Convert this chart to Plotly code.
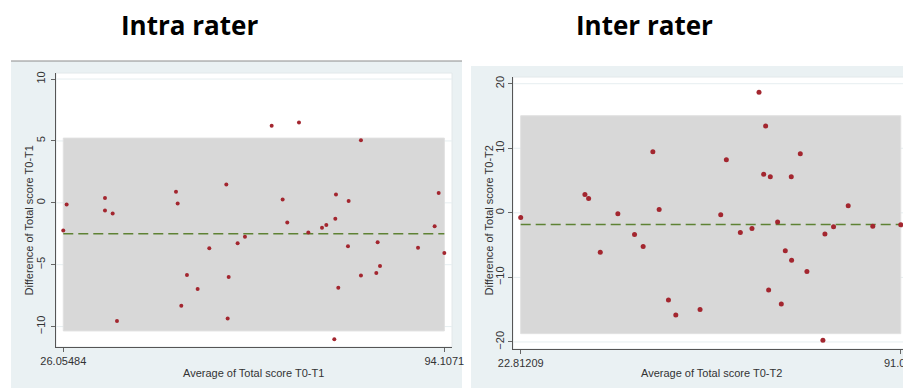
import plotly.graph_objects as go

# ---------------- data ----------------
intra_avg = [26.05, 26.65, 33.5, 33.5, 34.87, 35.64, 46.18, 46.48, 47.13, 48.14,
             50.05, 52.13, 55.17, 55.59, 55.41, 57.19, 58.5, 63.27, 65.23, 66.06,
             68.15, 69.82, 72.26, 73.03, 74.76, 74.64, 74.46, 75.17, 77.02, 76.9,
             79.22, 79.22, 81.96, 82.2, 82.62, 89.41, 92.38, 93.1, 94.11]
intra_diff = [-2.23, -0.14, 0.38, -0.62, -0.87, -9.54, 0.90, -0.05, -8.31, -5.84,
              -6.96, -3.67, 1.49, -6.0, -9.35, -3.26, -2.74, 6.22, 0.27, -1.58,
              6.49, -2.39, -2.01, -1.79, 0.68, -1.28, -11.03, -6.87, 0.14, -3.5,
              5.05, -5.87, -5.68, -3.18, -5.11, -3.64, -1.90, 0.79, -4.05]
intra_mean = -2.49
intra_limits = [-10.35, 5.23]
intra_xticks = [26.05484, 94.1071]
intra_xticktext = ["26.05484", "94.1071"]
intra_yticks = [-10, -5, 0, 5, 10]

inter_avg = [22.81, 34.34, 35.0, 37.09, 40.25, 43.24, 44.79, 46.53, 47.66, 49.33,
             50.65, 55.0, 58.71, 59.72, 62.23, 64.32, 65.58, 66.42, 66.77, 67.61,
             67.31, 68.92, 69.58, 70.3, 71.37, 71.43, 72.99, 74.18, 77.05, 77.41,
             78.96, 81.59, 86.0, 91.02]
inter_diff = [-0.72, 2.84, 2.22, -6.10, -0.16, -3.36, -5.22, 9.46, 0.52, -13.49,
              -15.81, -14.99, -0.31, 8.22, -3.05, -2.43, 18.66, 5.99, 13.44, 5.58,
              -11.94, -1.40, -14.11, -5.89, 5.58, -7.34, 9.15, -9.10, -19.74, -3.26,
              -2.17, 1.09, -2.07, -1.86]
inter_mean = -1.81
inter_limits = [-18.71, 15.04]
inter_xticks = [22.81209, 91.022]
inter_xticktext = ["22.81209", "91.022"]
inter_yticks = [-20, -10, 0, 10, 20]

titles = ["Intra rater", "Inter rater"]
x_titles = ["Average of Total score T0-T1", "Average of Total score T0-T2"]
y_titles = ["Difference of Total score T0-T1", "Difference of Total score T0-T2"]

# ---------------- styling ----------------
W, H = 911, 388
OFF = 8  # page body margin in the viewer
PANEL = "#EAF1F3"
BAND = "#D8D8D8"
MARK = "#A3262F"
MEANC = "#5E8234"
FONT = "Liberation Sans, Arial, sans-serif"


def px(x):
    return (x - OFF) / W


def py(y):
    return 1 - (y - OFF) / H


fig = go.Figure()

panels = [
    dict(avg=intra_avg, diff=intra_diff, mean=intra_mean, lim=intra_limits,
         xt=intra_xticks, xtt=intra_xticktext, yt=intra_yticks,
         xr=[24.75, 95.48], yr=[-11.65, 10.49],
         plot=(56, 452, 73, 347), outer=(11, 462, 61), msize=4, stand=2,
         xa="x", ya="y"),
    dict(avg=inter_avg, diff=inter_diff, mean=inter_mean, lim=inter_limits,
         xt=inter_xticks, xtt=inter_xticktext, yt=inter_yticks,
         xr=[21.43, 92.5], yr=[-21.09, 21.04],
         plot=(513, 909, 77, 349), outer=(471, 920, 66), msize=5, stand=0,
         xa="x2", ya="y2"),
]

shapes = []
annotations = []
layout_axes = {}

for i, p in enumerate(panels):
    L, R, T, B = p["plot"]
    oL, oR, oT = p["outer"]
    # outer graph region
    shapes.append(dict(type="rect", xref="paper", yref="paper",
                       x0=px(oL), x1=px(oR), y0=0, y1=py(oT),
                       fillcolor=PANEL, line=dict(width=0), layer="below"))
    # white plot region
    shapes.append(dict(type="rect", xref="paper", yref="paper",
                       x0=px(L), x1=px(R), y0=py(B), y1=py(T),
                       fillcolor="white", line=dict(color="#E2E8EA", width=1),
                       layer="below"))
    # grid lines
    for v in p["yt"]:
        shapes.append(dict(type="line", xref=p["xa"] + " domain", yref=p["ya"],
                           x0=0, x1=1, y0=v, y1=v,
                           line=dict(color="#E6EEF0", width=1), layer="below"))
    # limits of agreement band
    shapes.append(dict(type="rect", xref=p["xa"], yref=p["ya"],
                       x0=min(p["avg"]), x1=max(p["avg"]),
                       y0=p["lim"][0], y1=p["lim"][1],
                       fillcolor=BAND, line=dict(color="#E0E0E0", width=1),
                       layer="below"))

    # mean difference line
    fig.add_trace(go.Scatter(x=[min(p["avg"]), max(p["avg"])], y=[p["mean"], p["mean"]],
                             mode="lines", xaxis=p["xa"], yaxis=p["ya"],
                             line=dict(color=MEANC, width=1.5, dash="10px,5px"),
                             hoverinfo="skip", showlegend=False))
    # points
    fig.add_trace(go.Scatter(x=p["avg"], y=p["diff"], mode="markers",
                             xaxis=p["xa"], yaxis=p["ya"],
                             marker=dict(color=MARK, size=p["msize"], line=dict(width=0)),
                             showlegend=False))

    suffix = "" if i == 0 else "2"
    layout_axes["xaxis" + suffix] = dict(
        domain=[px(L), px(R)], range=p["xr"], anchor=p["ya"],
        tickvals=p["xt"], ticktext=p["xtt"], ticks="outside", ticklen=4,
        tickcolor="#666", showline=True, linecolor="#555", linewidth=1,
        showgrid=False, zeroline=False, automargin=False,
        tickfont=dict(family=FONT, size=11, color="#333"))
    layout_axes["yaxis" + suffix] = dict(
        domain=[py(B), py(T)], range=p["yr"], anchor=p["xa"],
        tickvals=p["yt"], ticks="outside", ticklen=4, tickangle=-90,
        ticklabelstandoff=p["stand"],
        tickcolor="#666", showline=True, linecolor="#555", linewidth=1,
        showgrid=False, zeroline=False, automargin=False,
        tickfont=dict(family=FONT, size=11, color="#333"))

    # axis titles
    annotations.append(dict(text=x_titles[i], xref="paper", yref="paper",
                            x=px((L + R) / 2), y=py(373), showarrow=False,
                            xanchor="center", yanchor="middle",
                            font=dict(family=FONT, size=11, color="#333")))
    annotations.append(dict(text=y_titles[i], xref="paper", yref="paper",
                            x=px(oL + 17.5), y=py(221), showarrow=False,
                            textangle=-90, xanchor="center", yanchor="middle",
                            font=dict(family=FONT, size=11, color="#333")))

# top border on the left graph region
shapes.append(dict(type="line", xref="paper", yref="paper",
                   x0=px(11), x1=px(462), y0=py(61), y1=py(61),
                   line=dict(color="#8C8C8C", width=1), layer="below"))

# panel titles
annotations.append(dict(text="<b>" + titles[0] + "</b>", xref="paper", yref="paper",
                        x=px(189.5), y=py(25), showarrow=False,
                        xanchor="center", yanchor="middle",
                        font=dict(family="Open Sans, sans-serif", size=26, color="black")))
annotations.append(dict(text="<b>" + titles[1] + "</b>", xref="paper", yref="paper",
                        x=px(644.5), y=py(25), showarrow=False,
                        xanchor="center", yanchor="middle",
                        font=dict(family="Open Sans, sans-serif", size=26, color="black")))

fig.update_layout(width=W, height=H,
                  margin=dict(l=0, r=0, t=0, b=0, pad=0, autoexpand=False),
                  paper_bgcolor="white", plot_bgcolor="rgba(0,0,0,0)",
                  shapes=shapes, annotations=annotations, showlegend=False,
                  **layout_axes)

fig.write_html("out.html")
